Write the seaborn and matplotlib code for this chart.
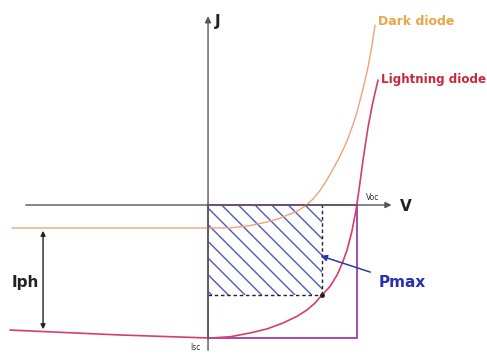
import matplotlib
matplotlib.use("Agg")
import matplotlib.pyplot as plt
import matplotlib.patches as mpatches
import seaborn as sns
import pandas as pd

# ---- data (normalised units: V / Voc, J / Isc) ----
dark_v = [-1.315, -0.725, 0.0, 0.148, 0.28, 0.396, 0.48, 0.55, 0.60, 0.651, 0.70, 0.752, 0.79, 0.819, 0.85, 0.88, 0.907, 0.933, 0.958, 0.98, 1.0, 1.02, 1.047, 1.074, 1.098, 1.121]
dark_j = [-0.173, -0.173, -0.173, -0.172, -0.155, -0.128, -0.100, -0.068, -0.045, -0.008, 0.040, 0.110, 0.175, 0.230, 0.292, 0.356, 0.418, 0.483, 0.558, 0.628, 0.70, 0.785, 0.905, 1.038, 1.185, 1.353]

light_v = [-1.329, -0.591, 0.013, 0.15, 0.282, 0.40, 0.503, 0.60, 0.664, 0.715, 0.765, 0.82, 0.866, 0.90, 0.933, 0.965, 0.993, 1.015, 1.04, 1.058, 1.074, 1.10, 1.122, 1.141]
light_j = [-0.940, -0.977, -1.0, -0.99, -0.962, -0.93, -0.887, -0.835, -0.789, -0.740, -0.677, -0.61, -0.526, -0.44, -0.338, -0.20, -0.038, 0.13, 0.338, 0.47, 0.586, 0.74, 0.85, 0.940]

voc = 1.0
isc = -1.0
pmax_v = 0.765
pmax_j = -0.677
dark_level = -0.173
light_level = -0.955

labels = {"dark": "Dark diode", "light": "Lightning diode", "pmax": "Pmax",
          "iph": "Iph", "voc": "Voc", "isc": "Isc", "J": "J", "V": "V"}

sns.set_theme(style="white")
plt.rcParams['font.family'] = ['DejaVu Sans']
plt.rcParams['hatch.linewidth'] = 1.0

fig = plt.figure(figsize=(4.87, 3.56), dpi=100)
ax = fig.add_axes([0, 0, 1, 1])

axis_col = "#555555"
# axes with arrows
ax.annotate("", xy=(1.25, 0), xytext=(-1.242, 0),
            arrowprops=dict(arrowstyle="-|>", color=axis_col, lw=1.0, mutation_scale=9))
ax.annotate("", xy=(0, 1.44), xytext=(0, -1.113),
            arrowprops=dict(arrowstyle="-|>", color=axis_col, lw=1.0, mutation_scale=9))

# hatched region
hatch = mpatches.Rectangle((0, pmax_j), pmax_v, -pmax_j, facecolor="none",
                           edgecolor="#4b5cb4", hatch="\\\\", linewidth=0)
ax.add_patch(hatch)

# purple rectangle
rect = mpatches.Rectangle((0, isc), voc, -isc, facecolor="none", edgecolor="#9a3fa6", linewidth=1.3)
ax.add_patch(rect)

# dashed lines
ax.plot([pmax_v, pmax_v], [pmax_j, 0], color="#222222", lw=1.0, ls=(0, (2.5, 2)))
ax.plot([0, pmax_v], [pmax_j, pmax_j], color="#222222", lw=1.0, ls=(0, (2.5, 2)))

# curves
df_dark = pd.DataFrame({"V": dark_v, "J": dark_j})
df_light = pd.DataFrame({"V": light_v, "J": light_j})
sns.lineplot(data=df_dark, x="V", y="J", ax=ax, color="#f2a27a", lw=1.0, sort=False, estimator=None)
sns.lineplot(data=df_light, x="V", y="J", ax=ax, color="#d23f6e", lw=1.2, sort=False, estimator=None)
ax.set_xlim(-1.396, 1.872)
ax.set_ylim(-1.135, 1.541)
ax.axis("off")

ax.plot([pmax_v], [pmax_j], "o", color="#222222", ms=2.5)

# Iph double arrow
ax.annotate("", xy=(-1.107, light_level), xytext=(-1.107, dark_level),
            arrowprops=dict(arrowstyle="<|-|>", color="#222222", lw=1.0, mutation_scale=7))

# Pmax arrow
ax.annotate("", xy=(0.738, -0.376), xytext=(1.107, -0.511),
            arrowprops=dict(arrowstyle="-|>", color="#2a3aa8", lw=1.1, mutation_scale=9))

# texts
ax.text(1.141, 1.376, labels["dark"], color="#e9a646", fontsize=9, fontweight="bold", va="center", ha="left")
ax.text(1.161, 0.94, labels["light"], color="#c9283e", fontsize=8.6, fontweight="bold", va="center", ha="left")
ax.text(1.302, -0.579, labels["pmax"], color="#2331b3", fontsize=11, fontweight="bold", va="center", ha="center")
ax.text(-1.228, -0.579, labels["iph"], color="#222222", fontsize=11, fontweight="bold", va="center", ha="center")
ax.text(1.107, 0.06, labels["voc"], color="#333333", fontsize=5.5, va="center", ha="center")
ax.text(-0.087, -1.068, labels["isc"], color="#333333", fontsize=5.5, va="center", ha="center")
ax.text(0.067, 1.376, labels["J"], color="#222222", fontsize=11, fontweight="bold", va="center", ha="center")
ax.text(1.33, -0.01, labels["V"], color="#222222", fontsize=11, fontweight="bold", va="center", ha="center")

fig.savefig("out.png", dpi=100)
